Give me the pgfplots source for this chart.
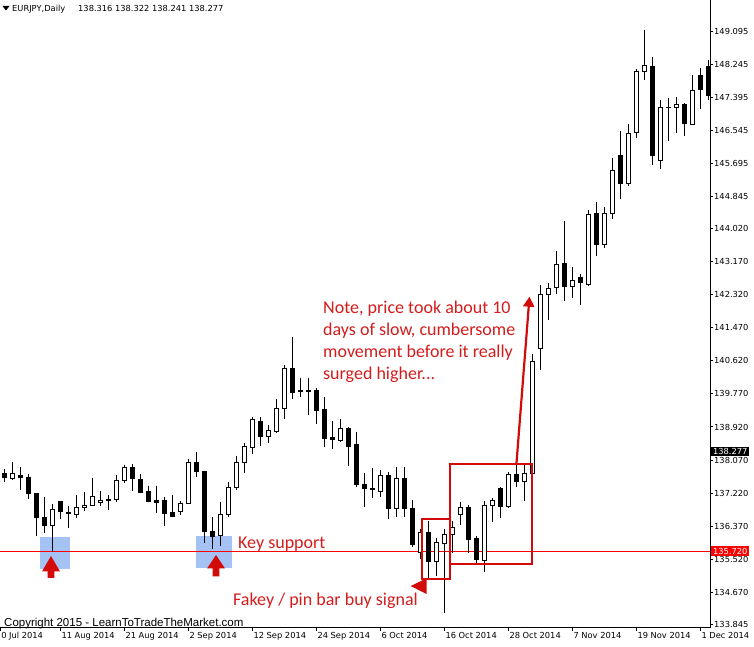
\documentclass[border=0pt]{standalone}
\usepackage{pgfplots}
\pgfplotsset{compat=1.18}
\usepackage{pgfplotstable}
\usepackage{fontspec}
\usetikzlibrary{arrows.meta}
\setmainfont{DejaVu Sans}
\newfontfamily\calib{Carlito}
\newfontfamily\arialf{Liberation Sans}

\definecolor{annot}{RGB}{212,28,28}
\definecolor{markred}{RGB}{210,10,10}
\definecolor{keyblue}{RGB}{164,194,244}
\definecolor{lvlred}{RGB}{255,0,0}

% EURJPY daily candles: index, open, high, low, close
\pgfplotstableread{
i o h l c
0 137.71 137.83 137.50 137.63
1 137.60 138.01 137.56 137.71
2 137.66 137.88 137.30 137.62
3 137.63 137.70 137.06 137.21
4 137.21 137.22 136.11 136.59
5 136.60 137.11 136.18 136.39
6 136.39 136.93 135.71 136.80
7 136.99 137.02 136.55 136.74
8 136.73 136.88 136.33 136.70
9 136.68 137.16 136.59 136.85
10 136.84 137.24 136.77 136.91
11 136.90 137.61 136.89 137.14
12 136.97 137.28 136.89 137.04
13 137.06 137.17 136.78 137.02
14 137.05 137.68 137.00 137.55
15 137.55 137.95 137.47 137.89
16 137.88 137.96 137.27 137.59
17 137.58 137.72 137.21 137.23
18 137.25 137.41 136.98 136.99
19 137.02 137.41 136.71 136.98
20 137.02 137.13 136.38 136.69
21 136.71 137.18 136.60 136.61
22 136.75 137.02 136.65 136.96
23 136.96 138.09 136.93 138.01
24 138.01 138.27 137.64 137.77
25 137.78 137.79 135.94 136.23
26 136.22 136.60 135.79 136.10
27 136.12 136.99 135.86 136.66
28 136.67 137.51 136.60 137.37
29 137.37 138.18 137.30 138.01
30 138.01 138.50 137.73 138.41
31 138.40 139.17 138.22 139.12
32 139.05 139.17 138.44 138.67
33 138.67 138.97 138.50 138.82
34 138.80 139.64 138.76 139.40
35 139.39 140.52 139.13 140.43
36 140.43 141.23 139.64 139.80
37 139.85 140.19 139.70 139.83
38 139.87 140.19 139.23 139.83
39 139.87 139.92 138.99 139.34
40 139.36 139.69 138.41 138.62
41 138.64 139.07 138.36 138.59
42 138.57 139.12 138.53 138.87
43 138.87 138.91 137.92 138.41
44 138.46 138.80 137.38 137.43
45 137.43 137.74 136.87 137.34
46 137.33 137.87 137.09 137.31
47 137.25 137.81 137.12 137.66
48 137.66 137.76 136.54 136.83
49 136.83 137.88 136.60 137.60
50 137.60 137.88 136.60 136.83
51 136.83 137.04 135.84 135.90
52 135.70 136.29 135.52 136.20
53 136.21 136.50 135.04 135.45
54 135.45 136.07 135.09 135.95
55 135.93 136.30 134.13 136.16
56 136.16 136.50 135.67 136.33
57 136.68 136.99 136.39 136.84
58 136.86 136.90 135.67 136.03
59 136.04 136.12 135.43 135.52
60 135.48 137.02 135.18 136.90
61 136.89 137.09 136.48 137.02
62 137.34 137.38 136.57 136.87
63 136.87 137.75 136.83 137.70
64 137.70 138.03 137.38 137.51
65 137.51 138.00 137.02 137.73
66 137.73 140.79 137.69 140.60
67 140.95 142.58 140.39 142.34
68 142.32 142.62 141.67 142.49
69 142.52 143.45 142.34 143.09
70 143.13 144.22 142.16 142.53
71 142.53 143.03 142.23 142.68
72 142.78 142.86 142.06 142.65
73 142.58 144.51 142.56 144.40
74 144.42 144.70 143.33 143.62
75 143.62 144.58 143.54 144.42
76 144.42 145.85 144.27 145.51
77 145.92 146.54 144.78 145.19
78 145.19 146.71 145.13 146.48
79 146.51 148.14 146.35 148.08
80 148.08 149.14 147.85 148.22
81 148.21 148.44 145.66 145.90
82 145.79 147.34 145.56 147.15
83 147.15 147.38 146.29 147.15
84 147.15 147.41 146.50 147.23
85 147.23 147.26 146.42 146.73
86 146.71 147.98 146.71 147.57
87 147.96 148.15 147.10 147.61
88 148.21 148.37 147.34 147.44
}\eurjpy

\pgfplotsset{candle/.style={only marks, mark=*, mark size=0pt,
  mark options={draw=none, fill=none},
  error bars/y dir=minus, error bars/y explicit, error bars/error mark=none}}

\begin{document}
\begin{tikzpicture}[x=1pt,y=1pt]
\useasboundingbox (0,0) rectangle (754,647);
% key support zones
\fill[keyblue] (40,78) rectangle (70,110.3);
\fill[keyblue] (196,79.3) rectangle (232,111);

\begin{axis}[
  at={(0pt,19pt)}, anchor=south west,
  scale only axis, width=710pt, height=628pt,
  xmin=-0.5375, xmax=88.2125, ymin=133.746, ymax=149.911,
  axis x line*=bottom, axis y line*=right,
  axis line style={black, line width=1pt},
  tick align=outside, major tick length=3pt,
  tick style={black, line width=1pt},
  xtick={-0.53,7,15,23,31,39,47,55,63,71,79,87},
  xticklabels={0 Jul 2014, 11 Aug 2014, 21 Aug 2014, 2 Sep 2014, 12 Sep 2014, 24 Sep 2014, 6 Oct 2014, 16 Oct 2014, 28 Oct 2014, 7 Nov 2014, 19 Nov 2014, 1 Dec 2014},
  ytick={133.845,134.670,135.520,136.370,137.220,138.070,138.920,139.770,140.620,141.470,142.320,143.170,144.020,144.845,145.695,146.545,147.395,148.245,149.095},
  yticklabels={133.845,134.670,135.520,136.370,137.220,138.070,138.920,139.770,140.620,141.470,142.320,143.170,144.020,144.845,145.695,146.545,147.395,148.245,149.095},
  ticklabel style={font=\fontsize{8.3}{9}\selectfont, inner sep=0pt},
  xticklabel style={anchor=north west, xshift=1pt, yshift=-1pt},
  yticklabel style={anchor=west, xshift=1pt},
  /pgf/number format/assume math mode=true,
  clip mode=individual,
]
% support level
\addplot[lvlred, line width=1.2pt, forget plot] coordinates {(-0.5375,135.72) (88.2125,135.72)};
% wicks
\addplot[candle, error bars/error bar style={black, line width=1pt}]
  table[x=i, y=h, y error minus expr={\thisrow{h}-\thisrow{l}}] {\eurjpy};
% bodies (black outline, filled for down days)
\addplot[candle, error bars/error bar style={black, line width=5pt}]
  table[x=i, y expr={max(\thisrow{o},\thisrow{c})+0.0129},
        y error minus expr={abs(\thisrow{c}-\thisrow{o})+0.0257}] {\eurjpy};
% hollow inside of up days
\addplot[candle, restrict expr to domain={\thisrow{c}-\thisrow{o}}{0.05:100},
  error bars/error bar style={white, line width=3pt}]
  table[x=i, y expr={\thisrow{c}-0.0129},
        y error minus expr={\thisrow{c}-\thisrow{o}-0.0257}] {\eurjpy};
\end{axis}

% annotations
\draw[markred, line width=2pt] (421.7,128.3) rectangle (450.3,68.3);
\draw[markred, line width=2pt] (449.7,183.3) rectangle (532.3,83);
\fill[markred] (410.7,61) -- (426.7,68.7) -- (426.7,53) -- cycle;
\draw[markred, line width=2.2pt, -{Triangle[width=11pt,length=10pt]}] (516.5,184) -- (529.5,350.3);
\fill[markred] (51,91) -- (60,75.5) -- (54.3,75.5) -- (54.3,69) -- (47.7,69) -- (47.7,75.5) -- (42,75.5) -- cycle;
\fill[markred] (216,92) -- (225,78.5) -- (219.3,78.5) -- (219.3,70.5) -- (212.7,70.5) -- (212.7,78.5) -- (207,78.5) -- cycle;

\begin{scope}[every node/.style={anchor=base west, inner sep=0pt, text=annot, font=\calib\fontsize{18}{22}\selectfont}]
\node at (323,333) {Note, price took about 10};
\node at (323,311) {days of slow, cumbersome};
\node at (323,289) {movement before it really};
\node at (323,267) {surged higher...};
\node at (238,98.7) {Key support};
\node at (233,41) {Fakey / pin bar buy signal};
\end{scope}

% price tags on the scale
\node[fill=black, text=white, inner sep=0pt, minimum width=38pt, minimum height=9.6pt, anchor=west,
  font=\fontsize{8.3}{9}\selectfont] at (711,195.5) {138.277};
\node[fill=lvlred, text=white, inner sep=0pt, minimum width=38pt, minimum height=9.6pt, anchor=west,
  font=\fontsize{8.3}{9}\selectfont] at (711,95.7) {135.720};

% header and copyright
\fill[black] (2.5,641) -- (9.5,641) -- (6,636.5) -- cycle;
\node[anchor=base west, inner sep=0pt, font=\fontsize{8.3}{9}\selectfont] at (12,635.5) {EURJPY,Daily};
\node[anchor=base west, inner sep=0pt, font=\fontsize{8.3}{9}\selectfont] at (78,635.5) {138.316 138.322 138.241 138.277};
\node[anchor=base west, inner sep=0pt, font=\arialf\fontsize{11.5}{13}\selectfont] at (4,20.5) {Copyright 2015 - LearnToTradeTheMarket.com};
\end{tikzpicture}
\end{document}
